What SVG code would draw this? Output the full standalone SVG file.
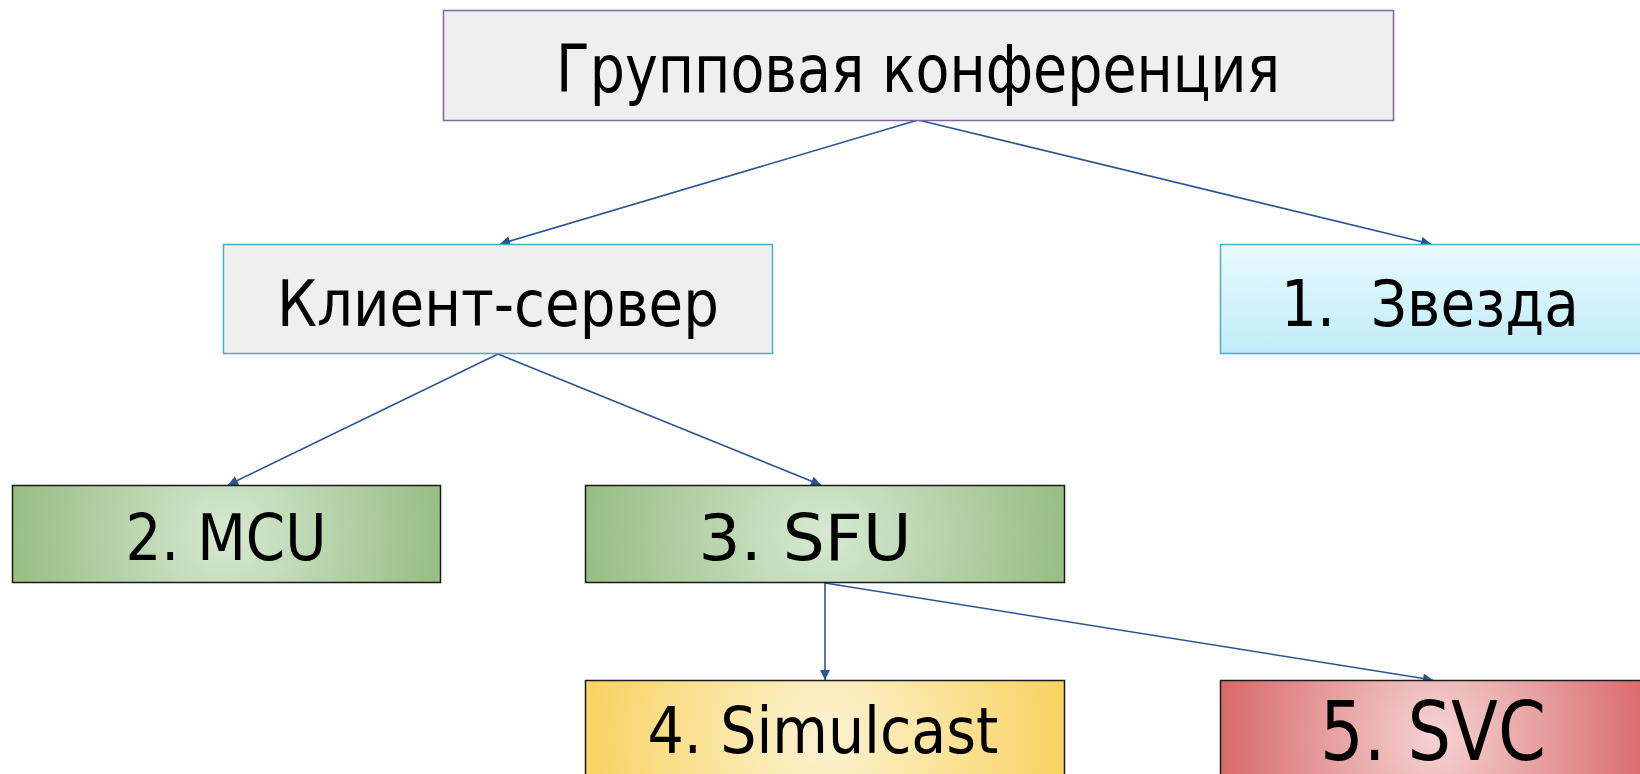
<svg xmlns="http://www.w3.org/2000/svg" width="1640" height="774" viewBox="0 0 1640 774">
<style>
.t{font-family:"DejaVu Sans","Liberation Sans",sans-serif;fill:#000;text-anchor:middle}
.c{stroke:#2a5590;stroke-width:1.6;fill:none;marker-end:url(#ah)}
</style>
<defs>
<marker id="ah" viewBox="0 0 10 10" refX="10" refY="5" markerWidth="12" markerHeight="10" orient="auto" markerUnits="userSpaceOnUse">
<path d="M0,0 L10,5 L0,10 z" fill="#2a5590"/>
</marker>
<linearGradient id="gBlue" x1="0" y1="0" x2="0" y2="1">
<stop offset="0" stop-color="#e8f9fe"/><stop offset="1" stop-color="#c0edf9"/>
</linearGradient>
<radialGradient id="gGreen" cx="0.5" cy="0.5" r="0.5" gradientTransform="translate(0.5 0.5) scale(1 4.5) translate(-0.5 -0.5)">
<stop offset="0" stop-color="#d6e9d0"/><stop offset="1" stop-color="#97be84"/>
</radialGradient>
<radialGradient id="gYellow" cx="0.5" cy="0.5" r="0.5" gradientTransform="translate(0.5 0.5) scale(1 4.5) translate(-0.5 -0.5)">
<stop offset="0" stop-color="#fdf3d3"/><stop offset="1" stop-color="#f8d262"/>
</radialGradient>
<radialGradient id="gRed" cx="0.5" cy="0.5" r="0.5" gradientTransform="translate(0.5 0.5) scale(1 4.5) translate(-0.5 -0.5)">
<stop offset="0" stop-color="#f5d3d3"/><stop offset="1" stop-color="#d96a6a"/>
</radialGradient>
</defs>
<rect width="1640" height="774" fill="#fff"/>
<g id="connectors">
<line class="c" x1="918" y1="120" x2="500" y2="244"/>
<line class="c" x1="918" y1="120" x2="1431" y2="244"/>
<line class="c" x1="498" y1="354" x2="228" y2="485"/>
<line class="c" x1="498" y1="354" x2="821" y2="485"/>
<line class="c" x1="825" y1="583" x2="825" y2="680"/>
<line class="c" x1="825" y1="583" x2="1433" y2="680"/>
</g>
<g id="node-group">
<rect x="443.5" y="10.5" width="950" height="110" fill="#efefef" stroke="#8064a2" stroke-width="1.5"/>
<text class="t" x="918" y="92" font-size="66" textLength="724" lengthAdjust="spacingAndGlyphs">Групповая конференция</text>
</g>
<g id="node-client-server">
<rect x="223.5" y="244.5" width="549" height="109" fill="#efefef" stroke="#4bacc6" stroke-width="1.5"/>
<text class="t" x="498" y="326" font-size="64" textLength="442" lengthAdjust="spacingAndGlyphs">Клиент-сервер</text>
</g>
<g id="node-star">
<rect x="1220.5" y="244.5" width="430" height="109" fill="url(#gBlue)" stroke="#4bacc6" stroke-width="1.5"/>
<text class="t" x="1430" y="326" font-size="64" textLength="298" lengthAdjust="spacingAndGlyphs" xml:space="preserve">1.  Звезда</text>
</g>
<g id="node-mcu">
<rect x="12.5" y="485.5" width="428" height="97" fill="url(#gGreen)" stroke="#1a1a1a" stroke-width="1.5"/>
<text class="t" x="226" y="560" font-size="64" textLength="201" lengthAdjust="spacingAndGlyphs">2. MCU</text>
</g>
<g id="node-sfu">
<rect x="585.5" y="485.5" width="479" height="97" fill="url(#gGreen)" stroke="#1a1a1a" stroke-width="1.5"/>
<text class="t" x="805" y="560" font-size="64" textLength="213" lengthAdjust="spacingAndGlyphs">3. SFU</text>
</g>
<g id="node-simulcast">
<rect x="585.5" y="680.5" width="479" height="110" fill="url(#gYellow)" stroke="#1a1a1a" stroke-width="1.5"/>
<text class="t" x="823" y="753" font-size="64" textLength="351" lengthAdjust="spacingAndGlyphs">4. Simulcast</text>
</g>
<g id="node-svc">
<rect x="1220.5" y="680.5" width="430" height="110" fill="url(#gRed)" stroke="#1a1a1a" stroke-width="1.5"/>
<text class="t" x="1433" y="760" font-size="82" textLength="226" lengthAdjust="spacingAndGlyphs">5. SVC</text>
</g>
</svg>
